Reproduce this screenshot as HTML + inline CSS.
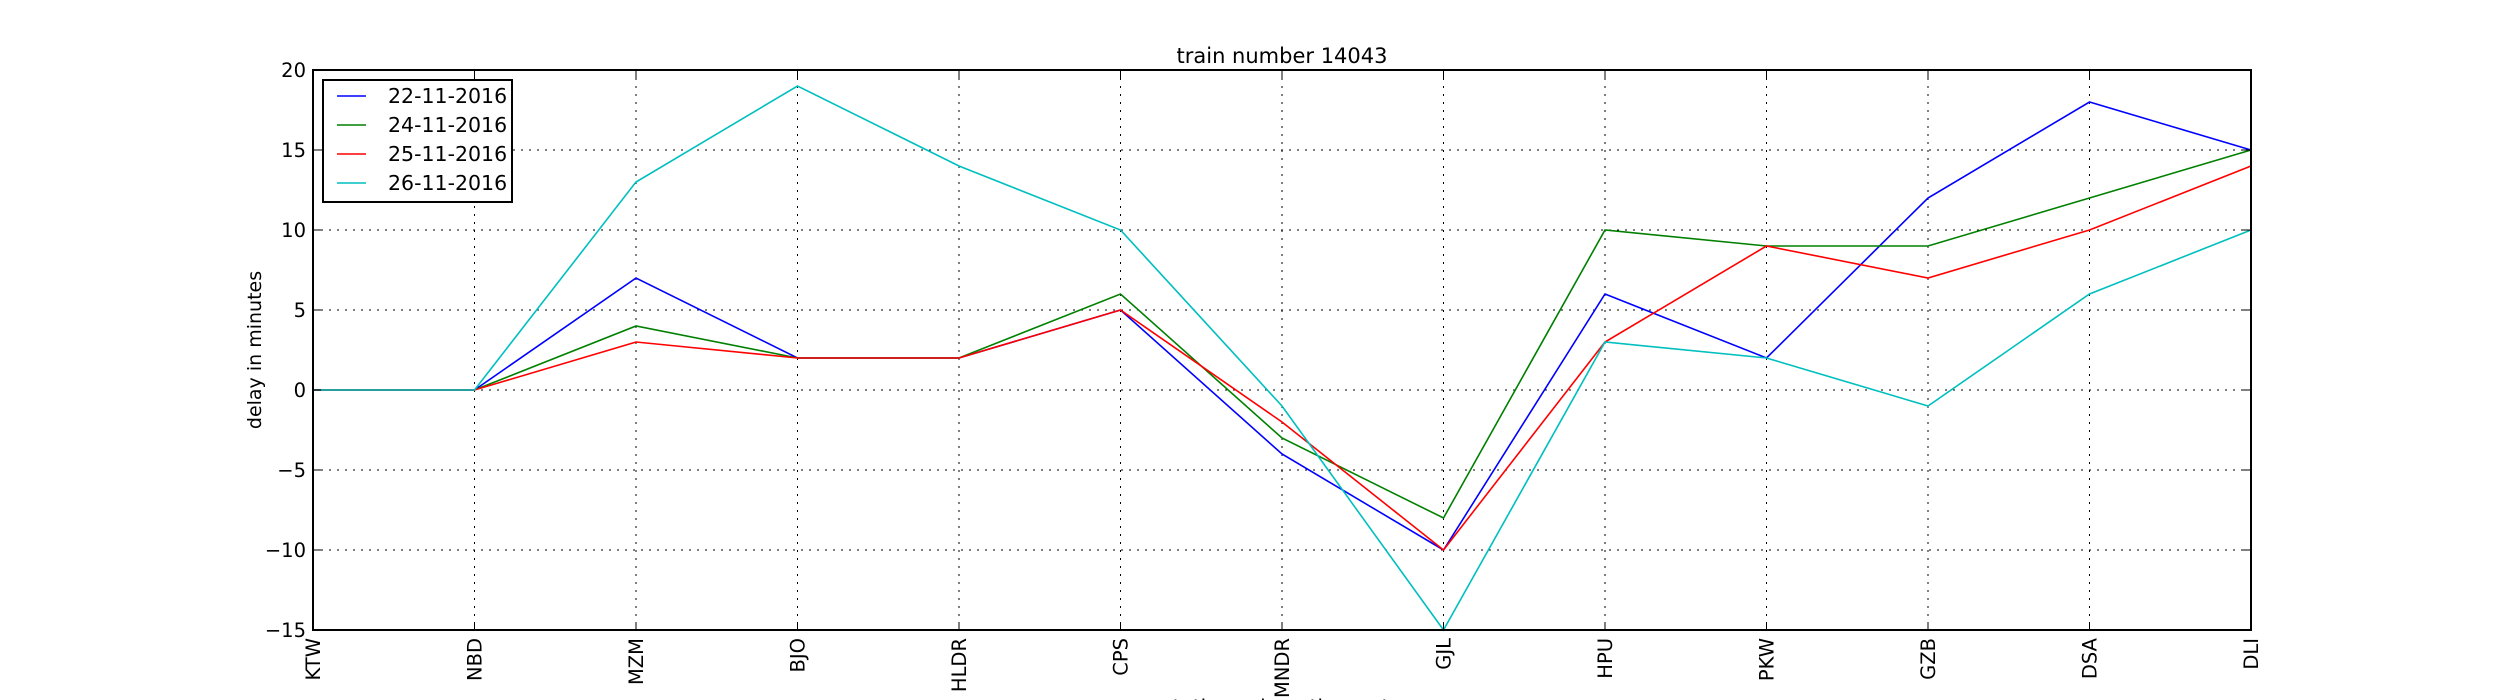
<!DOCTYPE html>
<html><head><meta charset="utf-8"><style>
html,body{margin:0;padding:0;background:#fff;}
svg{display:block;font-family:"DejaVu Sans","Liberation Sans",sans-serif;}
</style></head><body>
<svg id="chart" width="2500" height="700" viewBox="0 0 2500 700" xmlns="http://www.w3.org/2000/svg">
<rect width="2500" height="700" fill="#fff"/>
<text x="1282" y="63" font-size="21" text-anchor="middle">train number 14043</text>
<text transform="translate(261,350) rotate(-90)" font-size="19" text-anchor="middle">delay in minutes</text>
<text x="1282" y="714" font-size="20" text-anchor="middle">stations along the route</text>
<g id="grid"></g><g id="series"></g><g id="ticks"></g>
<rect x="313" y="70" width="1938" height="560" fill="none" stroke="#000" stroke-width="2"/>
<g id="legend"></g>
</svg>
<script>
const stations = ["KTW","NBD","MZM","BJO","HLDR","CPS","MNDR","GJL","HPU","PKW","GZB","DSA","DLI"];
const yTicks = [-15,-10,-5,0,5,10,15,20];
const seriesNames = ["22-11-2016","24-11-2016","25-11-2016","26-11-2016"];
const seriesColors = ["#0000ff","#008000","#ff0000","#00bfbf"];
const s22 = [0,0,7,2,2,5,-4,-10,6,2,12,18,15];
const s24 = [0,0,4,2,2,6,-3,-8,10,9,9,12,15];
const s25 = [0,0,3,2,2,5,-2,-10,3,9,7,10,14];
const s26 = [0,0,13,19,14,10,-1,-15,3,2,-1,6,10];
const allSeries = [s22,s24,s25,s26];

const NS = "http://www.w3.org/2000/svg";
const L=313,R=2251,T=70,B=630,yMin=-15,yMax=20;
function xs(i){return L+(R-L)*i/(stations.length-1);}
function ys(v){return B-(B-T)*(v-yMin)/(yMax-yMin);}
function mk(tag,attrs,parent){const e=document.createElementNS(NS,tag);for(const k in attrs)e.setAttribute(k,attrs[k]);parent.appendChild(e);return e;}
const grid=document.getElementById('grid'),ticks=document.getElementById('ticks'),ser=document.getElementById('series'),leg=document.getElementById('legend');
stations.forEach((s,i)=>{
  const x=xs(i);
  const g=mk('line',{x1:x,x2:x,y1:T,y2:B,stroke:'#000','stroke-width':1,'stroke-dasharray':'2,6'},grid);
  
  
  const t=mk('text',{transform:`translate(${x+7},638) rotate(-90)`,'font-size':19.5,'text-anchor':'end'},ticks);
  t.textContent=s;
  
  
  mk('line',{x1:x,x2:x,y1:B,y2:B-8,stroke:'#000','stroke-width':1},ticks);
  mk('line',{x1:x,x2:x,y1:T,y2:T+8,stroke:'#000','stroke-width':1},ticks);
});
yTicks.forEach(v=>{
  const y=ys(v);
  const g=mk('line',{x1:L,x2:R,y1:y,y2:y,stroke:'#000','stroke-width':1,'stroke-dasharray':'2,6'},grid);
  
  
  const t=mk('text',{x:306,y:y+7,'font-size':19.5,'text-anchor':'end'},ticks);
  t.textContent=v<0?'\u2212'+(-v):String(v);
  
  
  mk('line',{x1:L,x2:L+8,y1:y,y2:y,stroke:'#000','stroke-width':1},ticks);
  mk('line',{x1:R,x2:R-8,y1:y,y2:y,stroke:'#000','stroke-width':1},ticks);
});
allSeries.forEach((d,k)=>{
  const p=mk('polyline',{points:d.map((v,i)=>xs(i)+','+ys(v)).join(' '),fill:'none',stroke:seriesColors[k],'stroke-width':1.6},ser);
  
  
});
const box=mk('rect',{x:323,y:80,width:189,height:122,fill:'#fff',stroke:'#000','stroke-width':2},leg);


seriesNames.forEach((n,k)=>{
  const y=96+k*29;
  const ln=mk('line',{x1:337,x2:366,y1:y,y2:y,stroke:seriesColors[k],'stroke-width':1.6},leg);
  
  
  const t=mk('text',{x:388,y:y+7,'font-size':20.5},leg);
  t.textContent=n;
  
  
});
</script>
</body></html>
